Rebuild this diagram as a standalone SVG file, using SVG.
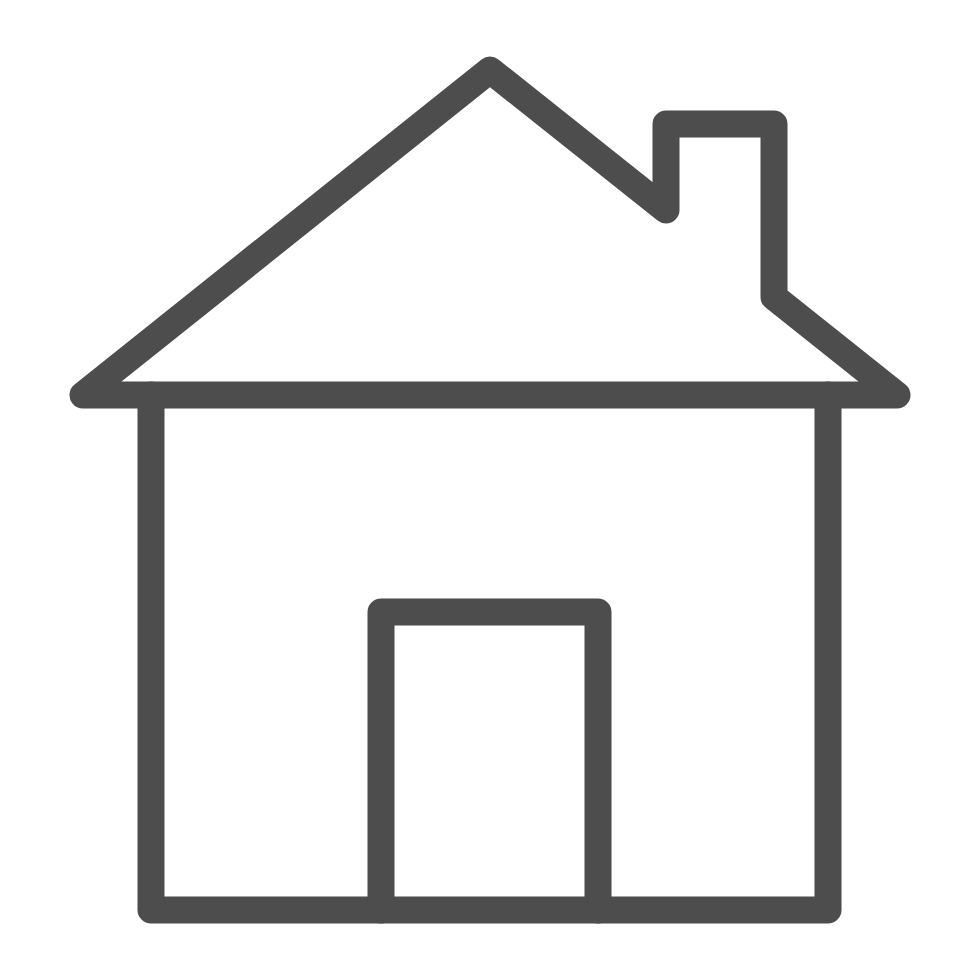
<svg xmlns="http://www.w3.org/2000/svg" width="980" height="980" viewBox="0 0 980 980">
<style>.l{fill:none;stroke:#4d4d4d;stroke-width:27;stroke-linejoin:round;stroke-linecap:round}</style>
<rect width="980" height="980" fill="#ffffff"/>
<path class="l" d="M83 395H897L774 297V124H666V210L490 70Z"/>
<path class="l" d="M151 395V910H828V395"/>
<path class="l" d="M381 910V612H598V910"/>
</svg>
